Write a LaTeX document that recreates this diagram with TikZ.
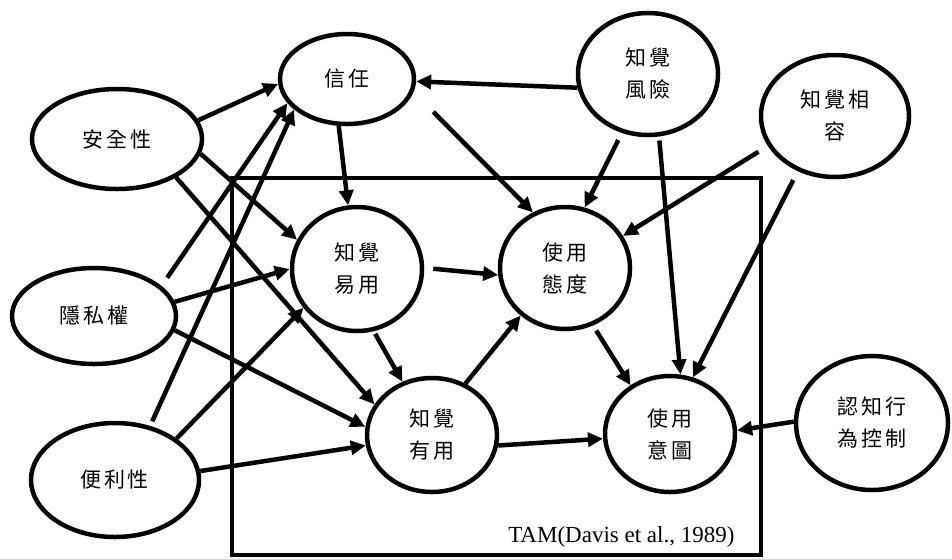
\documentclass[tikz,border=0pt]{standalone}
\usepackage{fontspec}
\setmainfont{Liberation Serif}
\newfontfamily\cjk[LetterSpace=12]{Noto Sans CJK TC}
\usetikzlibrary{shapes.geometric,arrows.meta}
\begin{document}
\begin{tikzpicture}[x=1pt,y=-1pt,
  ell/.style={ellipse,draw,line width=4.5pt,fill=white,inner sep=0pt,align=center,
    font=\cjk\fontsize{21}{32}\selectfont},
  arr/.style={line width=4.5pt,-{Triangle[length=15pt,width=14pt]}}]
\useasboundingbox (0,0) rectangle (952,558);
\draw[line width=4pt] (232,178) rectangle (761,555);
\node[ell,minimum width=170pt,minimum height=100pt] (ss) at (117,139) {安全性};
\node[ell,minimum width=134pt,minimum height=90pt] (xr) at (347,79) {信任};
\node[ell,minimum width=130pt,minimum height=124pt] (pe) at (357,269) {知覺\\易用};
\node[ell,minimum width=164pt,minimum height=96pt] (pr) at (94,316) {隱私權};
\node[ell,minimum width=168pt,minimum height=114pt] (cv) at (115,480) {便利性};
\node[ell,minimum width=130pt,minimum height=114pt] (pu) at (432,435) {知覺\\有用};
\node[ell,minimum width=130pt,minimum height=122pt] (at) at (565,268) {使用\\態度};
\node[ell,minimum width=130pt,minimum height=116pt] (bi) at (670,434) {使用\\意圖};
\node[ell,minimum width=140pt,minimum height=122pt] (rk) at (648,74) {知覺\\風險};
\node[ell,minimum width=148pt,minimum height=122pt] (cp) at (835,116) {知覺相\\容};
\node[ell,minimum width=152pt,minimum height=134pt] (bc) at (872,423) {認知行\\為控制};
\node[anchor=base east,font=\fontsize{23}{28}\selectfont] (tam) at (738,542) {TAM(Davis et al., 1989)};
\draw[arr] (ss.13) -- (xr.-176);
\draw[arr,shorten <=10pt] (pr.24) -- (xr.-158);
\draw[arr,shorten <=5pt] (cv.57) -- (xr.-150);
\draw[arr] (ss.-10) -- (pe.154);
\draw[arr] (ss.-33) -- (pu.152);
\draw[arr] (pr.10) -- (pe.180);
\draw[arr] (pr.-10) -- (pu.173);
\draw[arr] (cv.34) -- (pe.-144);
\draw[arr] (cv.6) -- (pu.-171);
\draw[arr] (xr.-100) -- (pe.98);
\draw[arr,shorten <=28pt] (xr.-11) -- (at.120);
\draw[arr] (rk.-169) -- (xr.-2);
\draw[arr,shorten <=8pt] (rk.-114) -- (at.72);
\draw[arr,shorten <=4pt] (rk.-80) -- (bi.80);
\draw[arr,shorten <=11pt] (cp.-156) -- (at.29);
\draw[arr,shorten <=10pt] (cp.-124) -- (bi.68);
\draw[arr,shorten <=9pt] (pe.1) -- (at.-174);
\draw[arr,shorten <=3pt] (pe.-75) -- (pu.119);
\draw[arr] (pu.57) -- (at.-133);
\draw[arr,shorten <=6pt] (at.-64) -- (bi.129);
\draw[arr] (pu.-9) -- (bi.-176);
\draw[arr] (bc.179) -- (bi.3);
\end{tikzpicture}
\end{document}
